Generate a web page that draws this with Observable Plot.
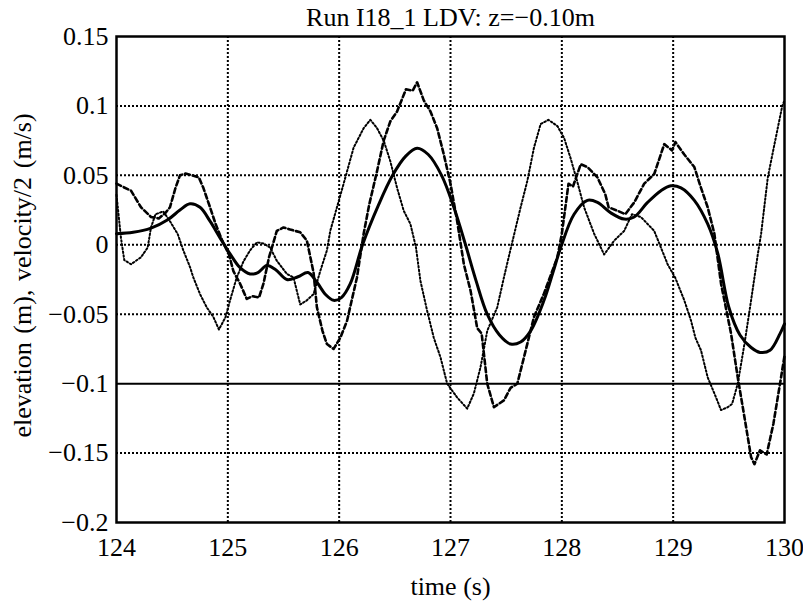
<!DOCTYPE html>
<html>
<head>
<meta charset="utf-8">
<script src="https://cdn.jsdelivr.net/npm/d3@7"></script>
<script src="https://cdn.jsdelivr.net/npm/@observablehq/plot@0.6"></script>
<style>
  html, body { margin: 0; padding: 0; background: #fff; }
</style>
</head>
<body>
<div id="chart"></div>
<script>
const titleText = "Run I18_1 LDV: z=\u22120.10m";
const xLabel = "time (s)";
const yLabel = "elevation\u2004(m),\u2004velocity/2\u2004(m/s)";

const xTicks = [124, 125, 126, 127, 128, 129, 130];
const yTicks = [0.15, 0.1, 0.05, 0, -0.05, -0.1, -0.15, -0.2];
const xGrid = [125, 126, 127, 128, 129];
const yGridDotted = [0.1, 0.05, 0, -0.05, -0.15];
const yGridSolid = [-0.1];

// solid: elevation
const solidT = [124.0,124.15,124.31,124.46,124.57,124.66,124.75,124.84,124.93,125.02,125.11,125.2,125.27,125.35,125.43,125.53,125.63,125.72,125.80,125.88,125.95,
  126.02,126.10,126.21,126.35,126.48,126.60,126.70,126.80,126.92,127.03,127.135,127.23,127.33,127.44,127.54,127.63,127.72,127.84,127.92,127.99,
  128.11,128.23,128.32,128.44,128.56,128.65,128.77,128.89,128.98,129.07,129.19,129.31,129.40,129.50,129.60,129.70,129.78,129.87,129.96,130.0];
const solidY = [0.008,0.009,0.012,0.018,0.025,0.0295,0.027,0.017,0.005,-0.0065,-0.0165,-0.021,-0.020,-0.015,-0.018,-0.025,-0.023,-0.020,-0.027,-0.036,-0.040,
  -0.038,-0.028,0.0,0.028,0.05,0.064,0.0695,0.065,0.05,0.027,0.0,-0.026,-0.050,-0.065,-0.0715,-0.070,-0.062,-0.040,-0.020,-0.002,
  0.022,0.032,0.0305,0.023,0.0185,0.020,0.0305,0.039,0.0425,0.041,0.032,0.015,-0.006,-0.045,-0.065,-0.074,-0.0775,-0.076,-0.064,-0.057];

// dashed: velocity 1
const dashT = [124.0,124.05,124.13,124.22,124.31,124.38,124.44,124.48,124.53,124.57,124.62,124.68,124.74,124.78,124.84,124.89,124.95,125.01,125.05,125.11,125.17,125.22,125.28,125.32,125.37,125.44,125.50,125.56,125.65,125.71,125.77,125.80,125.85,125.89,125.95,126.01,126.07,126.16,
  126.22,126.27,126.34,126.40,126.46,126.52,126.60,126.66,126.70,126.76,126.82,126.88,126.94,127.0,127.06,127.12,127.18,127.24,127.28,127.33,127.39,127.48,127.54,127.60,127.66,127.75,127.84,127.96,
  128.0,128.06,128.10,128.17,128.23,128.32,128.39,128.42,128.50,128.57,128.65,128.74,128.83,128.92,128.99,129.02,129.10,129.19,129.25,129.31,129.37,129.43,129.52,129.58,129.64,129.70,129.73,129.78,129.84,129.90,129.96,130.0];
const dashY = [0.044,0.042,0.039,0.027,0.020,0.019,0.023,0.027,0.041,0.050,0.0513,0.050,0.0485,0.041,0.027,0.015,0.003,-0.007,-0.019,-0.028,-0.039,-0.037,-0.038,-0.028,-0.009,0.010,0.0125,0.011,0.009,0.003,-0.020,-0.045,-0.062,-0.0715,-0.075,-0.067,-0.055,-0.0235,
  0.008,0.029,0.053,0.075,0.089,0.096,0.112,0.111,0.117,0.104,0.096,0.084,0.065,0.044,0.017,-0.014,-0.033,-0.060,-0.064,-0.100,-0.117,-0.112,-0.103,-0.100,-0.081,-0.052,-0.035,-0.009,
  0.008,0.044,0.042,0.058,0.056,0.0485,0.0365,0.027,0.0245,0.022,0.0305,0.044,0.051,0.0725,0.068,0.074,0.065,0.056,0.041,0.027,0.008,-0.028,-0.064,-0.0955,-0.124,-0.153,-0.158,-0.148,-0.151,-0.129,-0.100,-0.080];

// dotted: velocity 2
const dotT = [124.0,124.04,124.07,124.13,124.22,124.28,124.31,124.35,124.42,124.48,124.55,124.60,124.66,124.69,124.75,124.81,124.87,124.92,124.98,125.02,125.08,125.14,125.20,125.26,125.32,125.38,125.44,125.53,125.59,125.65,125.71,125.77,125.83,125.89,
  125.92,125.98,126.04,126.13,126.22,126.28,126.34,126.40,126.46,126.52,126.58,126.64,126.69,126.73,126.79,126.85,126.91,126.97,127.06,127.15,127.21,127.27,127.33,127.42,127.48,127.54,
  127.63,127.69,127.75,127.81,127.88,127.96,128.02,128.08,128.14,128.20,128.29,128.38,128.47,128.56,128.63,128.71,128.77,128.83,128.89,128.95,129.02,129.10,129.16,129.20,129.25,129.31,129.37,129.43,129.49,129.53,129.58,129.64,129.70,129.76,129.79,129.85,129.91,129.98,130.0];
const dotY = [0.036,0.005,-0.011,-0.014,-0.009,-0.002,0.0125,0.022,0.024,0.017,0.0077,-0.004,-0.016,-0.0235,-0.0355,-0.045,-0.052,-0.061,-0.052,-0.040,-0.0235,-0.012,-0.004,0.0017,0.001,-0.002,-0.0115,-0.021,-0.0235,-0.043,-0.040,-0.0355,-0.019,-0.004,
  0.010,0.027,0.044,0.070,0.084,0.090,0.084,0.075,0.060,0.041,0.0245,0.015,-0.002,-0.026,-0.0475,-0.067,-0.081,-0.100,-0.110,-0.118,-0.107,-0.088,-0.062,-0.045,-0.0235,-0.003,
  0.027,0.046,0.070,0.087,0.090,0.0855,0.077,0.062,0.045,0.027,0.008,-0.007,0.003,0.010,0.022,0.020,0.015,0.010,-0.002,-0.014,-0.024,-0.040,-0.0545,-0.067,-0.076,-0.0955,-0.107,-0.119,-0.117,-0.1145,-0.100,-0.0715,-0.040,-0.007,0.008,0.0485,0.0725,0.100,0.104];

const toRows = (ts, ys) => ts.map((t, i) => ({t, v: ys[i]}));
const solid = toRows(solidT, solidY);
const dashed = toRows(dashT, dashY);
const dotted = toRows(dotT, dotY);

const yFmt = d => d === 0 ? "0" : (d < 0 ? "\u2212" : "") + String(Math.abs(d));

const chart = Plot.plot({
  width: 803,
  height: 602,
  marginLeft: 116,
  marginRight: 19,
  marginTop: 36,
  marginBottom: 80,
  style: {fontFamily: "'Liberation Serif', 'Times New Roman', serif", fontSize: "26px", background: "#fff", color: "#000"},
  x: {domain: [124, 130], label: null},
  y: {domain: [-0.2, 0.15], label: null},
  marks: [
    Plot.gridX(xGrid, {stroke: "#000", strokeOpacity: 1, strokeWidth: 2, strokeDasharray: "2,2"}),
    Plot.gridY(yGridDotted, {stroke: "#000", strokeOpacity: 1, strokeWidth: 2, strokeDasharray: "2,2"}),
    Plot.ruleY(yGridSolid, {stroke: "#000", strokeWidth: 2}),
    Plot.line(dotted, {x: "t", y: "v", stroke: "#000", strokeWidth: 2, strokeDasharray: "1.6,2.2"}),
    Plot.line(dashed, {x: "t", y: "v", stroke: "#000", strokeWidth: 2.6, strokeDasharray: "5,3"}),
    Plot.line(solid, {x: "t", y: "v", stroke: "#000", strokeWidth: 3, curve: "catmull-rom"}),
    Plot.frame({stroke: "#000", strokeWidth: 2.5}),
    Plot.axisX(xTicks, {tickSize: 0, tickPadding: 15, tickFormat: d => String(d), fontSize: 26}),
    Plot.axisY(yTicks, {tickSize: 0, tickPadding: 8, tickFormat: yFmt, fontSize: 26}),
    Plot.text([titleText], {frameAnchor: "top", dy: -19, lineAnchor: "middle", textAnchor: "middle", fontSize: 26}),
    Plot.text([xLabel], {frameAnchor: "bottom", dy: 64, lineAnchor: "middle", textAnchor: "middle", fontSize: 26}),
    Plot.text([yLabel], {frameAnchor: "left", dx: -94, dy: -4, rotate: -90, lineAnchor: "middle", textAnchor: "middle", fontSize: 26})
  ]
});
document.getElementById("chart").appendChild(chart);
</script>
</body>
</html>
